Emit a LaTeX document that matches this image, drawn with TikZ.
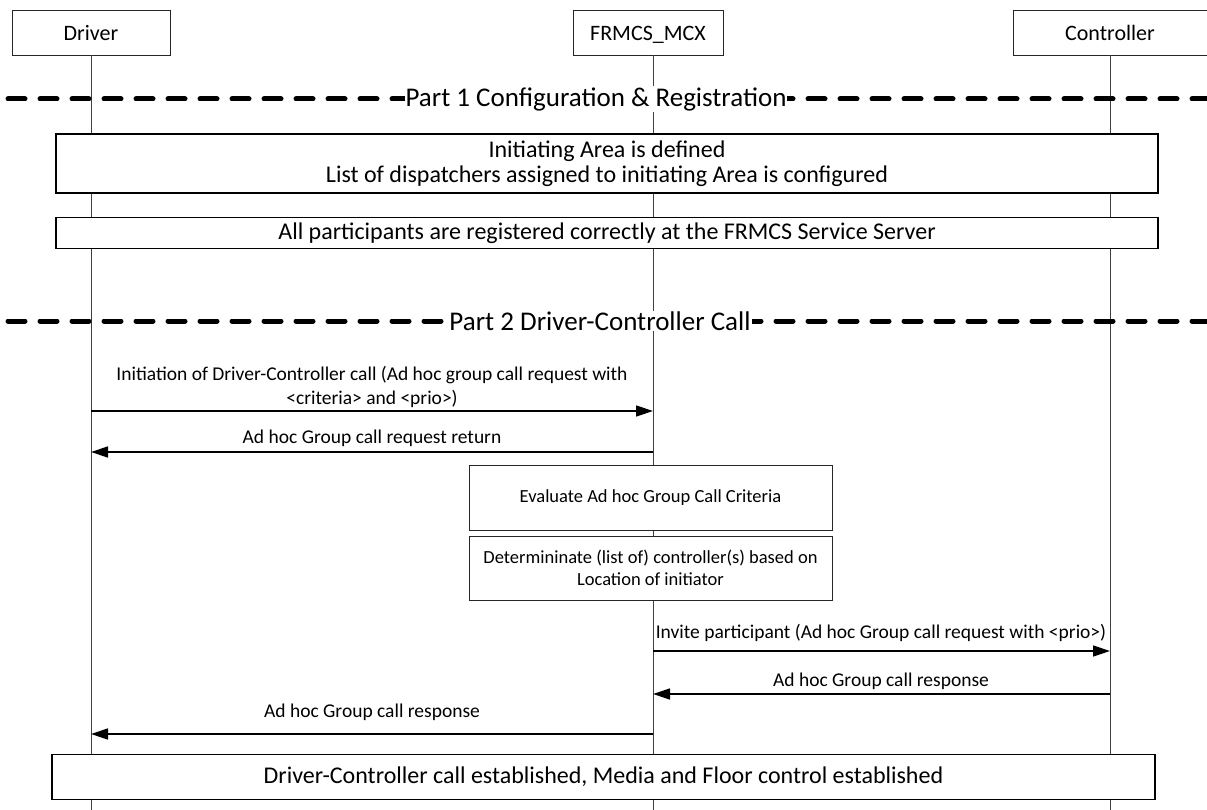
\documentclass[tikz,border=0pt]{standalone}
\usepackage{fontspec}
\setmainfont{Carlito}
\usetikzlibrary{arrows.meta}
\begin{document}
\begin{tikzpicture}[x=1pt,y=-1pt,
  actor/.style={draw=black!85, line width=0.8pt, fill=white, minimum height=45pt, inner sep=0pt, text height=18pt, text depth=1pt, font=\fontsize{22}{26}\selectfont},
  life/.style={draw=black!75, line width=0.9pt},
  bigbox/.style={draw=black, line width=1.8pt, fill=white, inner sep=0pt, align=center, font=\fontsize{24}{25}\selectfont},
  midbox/.style={draw=black!85, line width=0.8pt, fill=white, inner sep=0pt, align=center, minimum width=363pt, font=\fontsize{18.5}{21.5}\selectfont},
  sep/.style={line width=5pt, dash pattern=on 17pt off 15pt, line cap=round},
  parttext/.style={fill=white, inner sep=1pt, font=\fontsize{27}{30}\selectfont},
  msg/.style={line width=1.4pt, -{Triangle[length=17pt,width=11pt]}},
  lbl/.style={align=center, font=\fontsize{19.5}{24}\selectfont}
]
\useasboundingbox (0,0) rectangle (1207,810);
% actors
\node[actor, minimum width=158pt] (drv) at (91,32.5) {Driver};
\node[actor, minimum width=150pt] (mcx) at (648,32.5) {FRMCS\_MCX};
\node[actor, minimum width=194pt] (ctl) at (1110,32.5) {Controller};
% lifeline ends
\coordinate (drvE) at (91,810);
\coordinate (mcxE) at (653,810);
\coordinate (ctlE) at (1110,810);
\coordinate (mcxS) at (653,55);
\draw[life] (drv.south) -- (drvE);
\draw[life] (mcxS) -- (mcxE);
\draw[life] (ctl.south) -- (ctlE);
% separators
\coordinate (s1a) at (8,99); \coordinate (s1b) at (1207,99);
\draw[sep] (s1a) -- (s1b);
\node[parttext] (p1) at (596,99) {Part 1 Configuration \& Registration};
\coordinate (s2a) at (8,321); \coordinate (s2b) at (1207,321);
\draw[sep] (s2a) -- (s2b);
\node[parttext] (p2) at (600,321) {Part 2 Driver-Controller Call};
% boxes
\node[bigbox, minimum width=1102pt, minimum height=59pt] (b1) at (607,163.5) {Initiating Area is defined\\List of dispatchers assigned to initiating Area is configured};
\node[bigbox, minimum width=1102pt, minimum height=31pt] (b2) at (607,233) {All participants are registered correctly at the FRMCS Service Server};
\node[midbox, minimum height=65pt] (ev) at (650.5,497.5) {Evaluate Ad hoc Group Call Criteria};
\node[midbox, minimum height=64pt] (dt) at (650.5,568) {Determininate (list of) controller(s) based on\\Location of initiator};
\node[bigbox, minimum width=1103pt, minimum height=45pt] (b3) at (603.5,777) {Driver-Controller call established, Media and Floor control established};
% messages
\coordinate (d1) at (91,411); \coordinate (m1) at (653,411);
\draw[msg] (d1) -- (m1);
\node[lbl] (l1) at (372,387) {Initiation of Driver-Controller call (Ad hoc group call request with\\<criteria> and <prio>)};
\coordinate (d2) at (91,452); \coordinate (m2) at (653,452);
\draw[msg] (m2) -- (d2);
\node[lbl] (l2) at (372,438) {Ad hoc Group call request return};
\coordinate (m3) at (653,651); \coordinate (c3) at (1110,651);
\draw[msg] (m3) -- (c3);
\node[lbl] (l3) at (881,633) {Invite participant (Ad hoc Group call request with <prio>)};
\coordinate (m4) at (653,694); \coordinate (c4) at (1110,694);
\draw[msg] (c4) -- (m4);
\node[lbl] (l4) at (881,681) {Ad hoc Group call response};
\coordinate (m5) at (653,734); \coordinate (d5) at (91,734);
\draw[msg] (m5) -- (d5);
\node[lbl] (l5) at (372,712) {Ad hoc Group call response};
\end{tikzpicture}
\end{document}
